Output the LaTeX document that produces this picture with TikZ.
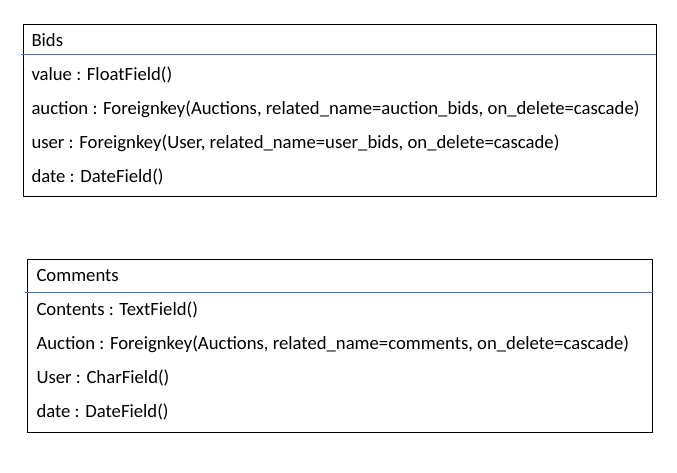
\documentclass[tikz,border=0pt]{standalone}
\usepackage{fontspec}
\setmainfont{Carlito}
\definecolor{lineblue}{RGB}{68,114,196}

\begin{document}
\begin{tikzpicture}[x=1pt,y=-1pt,line width=1pt,
  field/.style={anchor=base west,inner sep=0pt,font=\fontsize{18.7}{22}\selectfont}]
\useasboundingbox (0,0) rectangle (677,472);
\draw (23,24) rectangle (656,196);
\draw[lineblue] (21,54) -- (656,54);
\node[field] (bids) at (31,46) {Bids};
\node[field] (bidvalue) at (31,80) {value : FloatField()};
\node[field] (bidauction) at (31,114) {auction : Foreignkey(Auctions, related\_name=auction\_bids, on\_delete=cascade)};
\node[field] (biduser) at (31,148) {user : Foreignkey(User, related\_name=user\_bids, on\_delete=cascade)};
\node[field] (biddate) at (31,182) {date : DateField()};
\draw (27,259) rectangle (652,432);
\draw[lineblue] (25,292) -- (653,292);
\node[field] (comments) at (36,281) {Comments};
\node[field] (comcontents) at (36,315) {Contents : TextField()};
\node[field] (comauction) at (36,349) {Auction : Foreignkey(Auctions, related\_name=comments, on\_delete=cascade)};
\node[field] (comuser) at (36,383) {User : CharField()};
\node[field] (comdate) at (36,417) {date : DateField()};
\end{tikzpicture}
\end{document}
